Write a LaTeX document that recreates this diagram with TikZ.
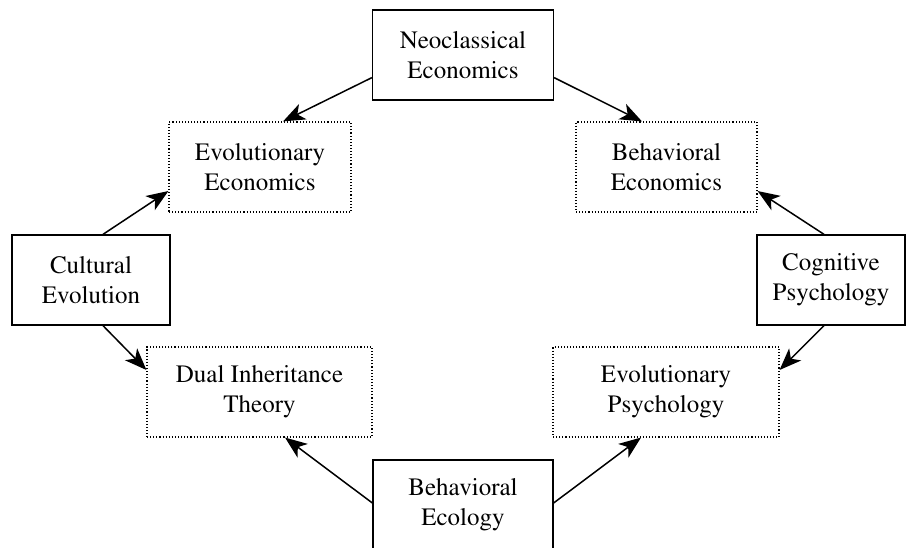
\documentclass[tikz,border=0pt]{standalone}
\usepackage[T1]{fontenc}
\usepackage{times}
\usetikzlibrary{arrows.meta,calc}
\begin{document}
\begin{tikzpicture}[x=1pt,y=-1pt,
  box/.style={draw, line width=1.3pt, inner sep=0pt, minimum height=90pt, align=center,
    font=\rmfamily\fontsize{25}{30}\selectfont},
  dotbox/.style={box, line width=1.1pt, dash pattern=on 1.1pt off 2pt},
  arr/.style={line width=1.5pt, -{Stealth[length=22pt,width=17pt,inset=6pt]}}]
\useasboundingbox (0,0) rectangle (906,548);
\begin{scope}
\clip (0,0) rectangle (906,548);
\node[box, minimum width=181pt] (neo) at (463,55) {Neoclassical\\Economics};
\node[dotbox, minimum width=182pt] (evoecon) at (260,167) {Evolutionary\\Economics};
\node[dotbox, minimum width=181pt] (behecon) at (666.5,167) {Behavioral\\Economics};
\node[box, minimum width=158pt] (cult) at (91,280) {Cultural\\Evolution};
\node[box, minimum width=148pt] (cog) at (831,280) {Cognitive\\Psychology};
\node[dotbox, minimum width=225pt] (dual) at (259.5,392) {Dual Inheritance\\Theory};
\node[dotbox, minimum width=226pt] (evopsy) at (666,392) {Evolutionary\\Psychology};
\node[box, minimum width=180pt] (beheco) at (463,505) {Behavioral\\Ecology};
\draw[arr] ($(neo.south west)+(0,-23)$) -- ($(evoecon.north)+(23,0)$);
\draw[arr] ($(neo.south east)+(0,-23)$) -- ($(behecon.north)+(-24.5,0)$);
\draw[arr] ($(cult.north)+(12,0)$) -- ($(evoecon.west)+(0,24)$);
\draw[arr] ($(cult.south)+(12,0)$) -- ($(dual.west)+(0,-22)$);
\draw[arr] ($(cog.north)+(-7,0)$) -- ($(behecon.east)+(0,24)$);
\draw[arr] ($(cog.south)+(-7,0)$) -- ($(evopsy.east)+(0,-22)$);
\draw[arr] ($(beheco.west)+(0,-2)$) -- ($(dual.south)+(25.5,0)$);
\draw[arr] ($(beheco.east)+(0,-2)$) -- ($(evopsy.south)+(-25,0)$);
\end{scope}
\end{tikzpicture}
\end{document}
